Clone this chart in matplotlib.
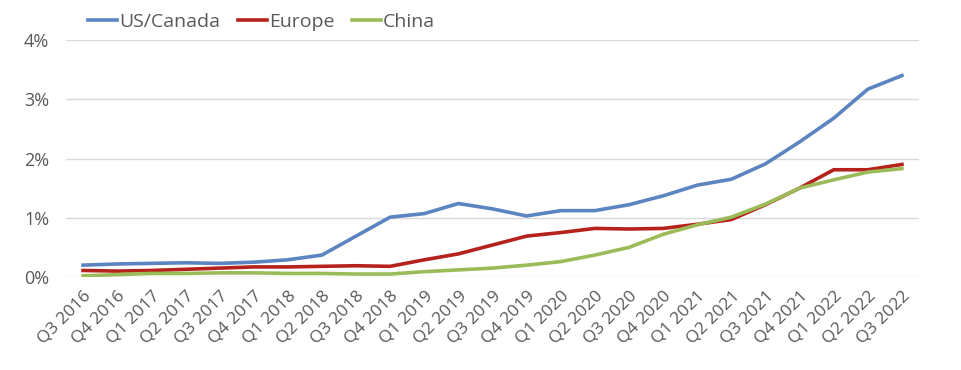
import matplotlib
matplotlib.use('Agg')
import matplotlib.pyplot as plt
from matplotlib.ticker import FuncFormatter

quarters = ['Q3 2016', 'Q4 2016', 'Q1 2017', 'Q2 2017', 'Q3 2017', 'Q4 2017',
            'Q1 2018', 'Q2 2018', 'Q3 2018', 'Q4 2018', 'Q1 2019', 'Q2 2019',
            'Q3 2019', 'Q4 2019', 'Q1 2020', 'Q2 2020', 'Q3 2020', 'Q4 2020',
            'Q1 2021', 'Q2 2021', 'Q3 2021', 'Q4 2021', 'Q1 2022', 'Q2 2022',
            'Q3 2022']

# share in percent
us_canada = [0.20, 0.22, 0.23, 0.24, 0.23, 0.25, 0.29, 0.37, 0.69, 1.01,
             1.07, 1.24, 1.15, 1.03, 1.12, 1.12, 1.22, 1.37, 1.55, 1.65,
             1.91, 2.28, 2.68, 3.17, 3.40]
europe = [0.11, 0.10, 0.11, 0.13, 0.15, 0.17, 0.17, 0.18, 0.19, 0.18,
          0.29, 0.39, 0.54, 0.69, 0.75, 0.82, 0.81, 0.82, 0.89, 0.97,
          1.22, 1.50, 1.81, 1.81, 1.90]
china = [0.02, 0.04, 0.06, 0.06, 0.07, 0.07, 0.06, 0.06, 0.05, 0.05,
         0.09, 0.12, 0.15, 0.20, 0.26, 0.37, 0.50, 0.72, 0.88, 1.01,
         1.23, 1.50, 1.64, 1.77, 1.83]

plt.rcParams['font.family'] = ['Open Sans', 'DejaVu Sans']
txt = '#595959'

fig = plt.figure(figsize=(9.62, 3.70), dpi=100)
ax = fig.add_axes([66/962, 93/370, 853/962, 237/370])

x = range(len(quarters))
ax.plot(x, us_canada, color='#5B84C1', lw=2.6, label='US/Canada')
ax.plot(x, europe, color='#B5221C', lw=2.6, label='Europe')
ax.plot(x, china, color='#9BBB59', lw=2.6, label='China')

ax.set_xlim(-0.5, len(quarters) - 0.5)
ax.set_ylim(0, 4)
ax.set_yticks([0, 1, 2, 3, 4])
ax.yaxis.set_major_formatter(FuncFormatter(lambda v, p: '%d%%' % v))
ax.set_xticks(list(x))
ax.set_xticklabels(quarters, rotation=45, ha='right', rotation_mode='anchor')
ax.tick_params(axis='both', length=0, colors=txt)
ax.tick_params(axis='y', pad=12, labelsize=13)
ax.tick_params(axis='x', pad=8, labelsize=12.5)
ax.grid(axis='y', color='#D9D9D9', lw=1)
ax.set_axisbelow(True)
for s in ax.spines.values():
    s.set_visible(False)

leg = ax.legend(loc='center left', bbox_to_anchor=(0.017, 1.075), ncol=3, frameon=False,
                fontsize=14, handlelength=1.5, handletextpad=0.1, columnspacing=0.9,
                borderaxespad=0)
for t in leg.get_texts():
    t.set_color(txt)

fig.savefig('out.png', dpi=100)
